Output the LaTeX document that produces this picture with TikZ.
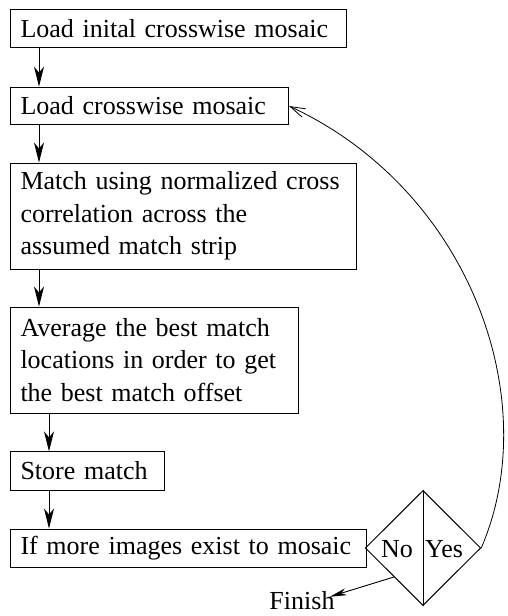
\documentclass[tikz,border=0pt]{standalone}
\usepackage{fontspec}
\setmainfont{Liberation Serif}
\usetikzlibrary{arrows.meta,shapes.geometric,calc}

\tikzset{
  stepbox/.style={draw, line width=1pt, anchor=west, inner xsep=3pt, inner ysep=3pt,
    align=left, execute at begin node={\leftskip=7pt}},
  flow/.style={line width=1pt, -{Stealth[length=20pt,width=10pt,inset=6pt]}},
  backflow/.style={line width=0.8pt, -{Straight Barb[length=15pt,width=9pt]}},
  exitflow/.style={line width=0.9pt, -{Stealth[length=17pt,width=7pt,inset=5pt]}},
  decide/.style={draw, shape=diamond, line width=1pt, inner sep=0pt,
    minimum width=115.5pt, minimum height=115pt}
}

\begin{document}
\begin{tikzpicture}[x=1pt, y=-1pt, font=\fontsize{26}{32.5}\selectfont]
\useasboundingbox (0,0) rectangle (507,616);

% process steps
\node[stepbox, text width=330pt, minimum height=37.6pt] (b1) at (10,28.5)
  {\mbox{Load inital crosswise mosaic}};
\node[stepbox, text width=272pt, minimum height=37.7pt] (b2) at (10,106)
  {\mbox{Load crosswise mosaic}};
\node[stepbox, text width=340pt, minimum height=106pt] (b3) at (10,216)
  {\mbox{Match using normalized cross}\\\mbox{correlation across the}\\\mbox{assumed match strip}};
\node[stepbox, text width=282pt, minimum height=106pt] (b4) at (10,360)
  {\mbox{Average the best match}\\\mbox{locations in order to get}\\\mbox{the best match offset}};
\node[stepbox, text width=148pt, minimum height=38.3pt] (b5) at (10,471)
  {\mbox{Store match}};
\node[stepbox, text width=349.5pt, minimum height=38pt] (b6) at (10,548)
  {\mbox{If more images exist to mosaic}};

% decision
\node[decide] (d) at (423,548) {};
\draw[line width=1pt] (d.north) -- (d.south);
\node[anchor=base east, inner sep=0pt] (no) at ($(d.center)+(-10,9)$) {No};
\node[anchor=base west, inner sep=0pt] (yes) at ($(d.center)+(2,9)$) {Yes};

\node[anchor=base, inner sep=0pt] (fin) at (302,609) {Finish};

% connectors
\coordinate (ax1) at (39,0);
\coordinate (ax2) at (49,0);
\draw[flow] (b1.south -| ax1) -- (b2.north -| ax1);
\draw[flow] (b2.south -| ax1) -- (b3.north -| ax1);
\draw[flow] (b3.south -| ax1) -- (b4.north -| ax1);
\draw[flow] (b4.south -| ax2) -- (b5.north -| ax2);
\draw[flow] (b5.south -| ax2) -- (b6.north -| ax2);

\draw[backflow] (d.east) .. controls (545,400) and (470,190) .. (b2.east);
\draw[exitflow] (d.south west) -- ([shift={(-5,6)}]fin.north east);
\end{tikzpicture}
\end{document}
